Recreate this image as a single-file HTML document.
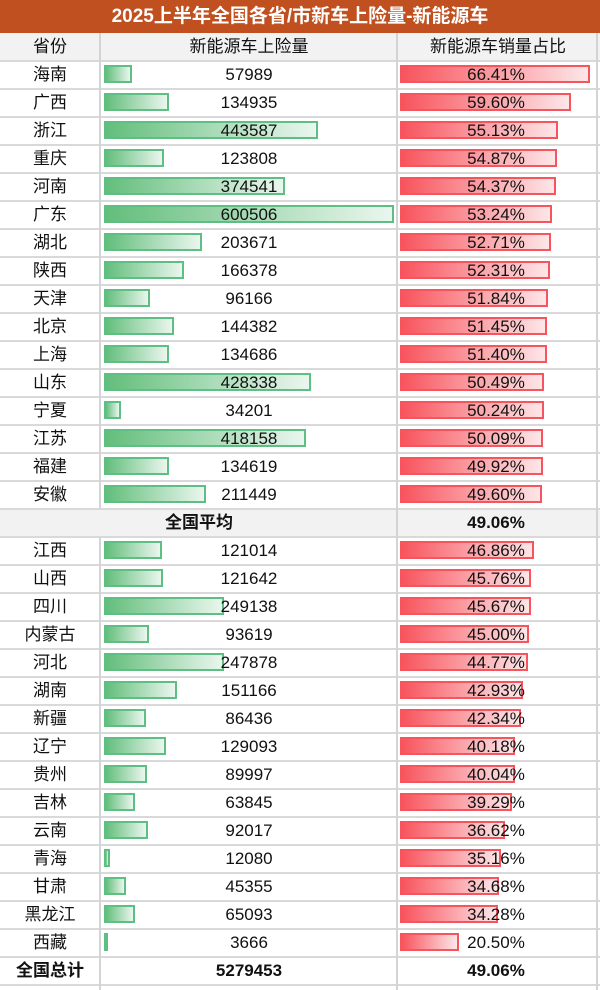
<!DOCTYPE html>
<html><head><meta charset="utf-8"><style>
body{margin:0;width:600px;height:990px;background:#fff;font-family:"Liberation Sans","Noto Sans CJK SC",sans-serif;position:relative;overflow:hidden}
.abs{position:absolute}
.title{left:0;top:0;width:600px;height:33px;background:#C0501F;color:#fff;font-weight:bold;font-size:19px;line-height:33px;text-align:center}
.hdr{left:0;top:33px;width:600px;height:28px;background:#f2f2f2}
.t{position:absolute;font-size:17px;color:#111;text-align:center;line-height:28px;height:28px}
.vl{position:absolute;width:2px;background:#d4d4d4}
.hl{position:absolute;left:0;width:600px;height:2px;background:#d9d9d9}
.gb{position:absolute;height:18px;border:2px solid #5dbf83;background:linear-gradient(to right,#63be7b,#eaf6ee);box-sizing:border-box}
.rb{position:absolute;height:18px;border:2px solid #f8545d;background:linear-gradient(to right,#f8545d,#fde6e8);box-sizing:border-box}
</style></head><body>
<div class="abs title">2025上半年全国各省/市新车上险量-新能源车</div>
<div class="abs hdr"></div>
<div class="t" style="left:0;top:33px;width:100px">省份</div>
<div class="t" style="left:100px;top:33px;width:298px">新能源车上险量</div>
<div class="t" style="left:398px;top:33px;width:200px">新能源车销量占比</div>
<div id="rows"></div>
<script>
const provinces=["海南","广西","浙江","重庆","河南","广东","湖北","陕西","天津","北京","上海","山东","宁夏","江苏","福建","安徽","全国平均","江西","山西","四川","内蒙古","河北","湖南","新疆","辽宁","贵州","吉林","云南","青海","甘肃","黑龙江","西藏","全国总计"];
const volumes=[57989,134935,443587,123808,374541,600506,203671,166378,96166,144382,134686,428338,34201,418158,134619,211449,null,121014,121642,249138,93619,247878,151166,86436,129093,89997,63845,92017,12080,45355,65093,3666,5279453];
const shares=[66.41,59.60,55.13,54.87,54.37,53.24,52.71,52.31,51.84,51.45,51.40,50.49,50.24,50.09,49.92,49.60,49.06,46.86,45.76,45.67,45.00,44.77,42.93,42.34,40.18,40.04,39.29,36.62,35.16,34.68,34.28,20.50,49.06];
const volMax=600506, volPx=290, shareMax=66.41, sharePx=190;
const c=document.getElementById('rows');
const top0=61,rh=28;
function vline(x,n,y0,h){const v=document.createElement('div');v.className='vl';v.style.left=x+'px';v.style.top=y0+'px';v.style.height=h+'px';


c.appendChild(v);}
provinces.forEach((p,i)=>{
 const y=top0+i*rh;const special=(p==="全国平均"||p==="全国总计");
 if(p==="全国平均"){const bg=document.createElement('div');bg.className='abs';bg.style.cssText=`left:0;top:${y}px;width:600px;height:${rh}px;background:#f2f2f2`;
 
 
 c.appendChild(bg);}
 const hl=document.createElement('div');hl.className='hl';hl.style.top=(y-1)+'px';
 
 
 c.appendChild(hl);
 const v=volumes[i];
 if(v!==null&&p!=="全国总计"){const b=document.createElement('div');b.className='gb';b.style.left='104px';b.style.top=(y+4)+'px';b.style.width=(v/volMax*volPx)+'px';
 
 
 c.appendChild(b);}
 if(!special){const b=document.createElement('div');b.className='rb';b.style.left='400px';b.style.top=(y+4)+'px';b.style.width=(shares[i]/shareMax*sharePx)+'px';
 
 
 c.appendChild(b);}
 const a=document.createElement('div');a.className='t';
 a.style.cssText=p==="全国平均"?`left:0;top:${y}px;width:398px;font-weight:bold;`:`left:0;top:${y}px;width:100px;${special?'font-weight:bold;':''}`;
 a.textContent=p;
 
 
 c.appendChild(a);
 if(v!==null){const t=document.createElement('div');t.className='t';t.style.cssText=`left:100px;top:${y}px;width:298px;${special?'font-weight:bold;':''}`;t.textContent=v;
 
 
 c.appendChild(t);}
 const s=document.createElement('div');s.className='t';s.style.cssText=`left:396px;top:${y}px;width:200px;${special?'font-weight:bold;':''}`;s.textContent=shares[i].toFixed(2)+'%';
 
 
 c.appendChild(s);
});
const hlEnd=document.createElement('div');hlEnd.className='hl';hlEnd.style.top=(top0+provinces.length*rh-1)+'px';


c.appendChild(hlEnd);
const avgY=top0+16*rh;
vline(99,'col-divider-1',33,avgY-33);
vline(99,'col-divider-1b',avgY+rh,990-avgY-rh);
vline(396,'col-divider-2',33,957);
vline(596,'col-divider-3',33,957);
</script>
</body></html>
